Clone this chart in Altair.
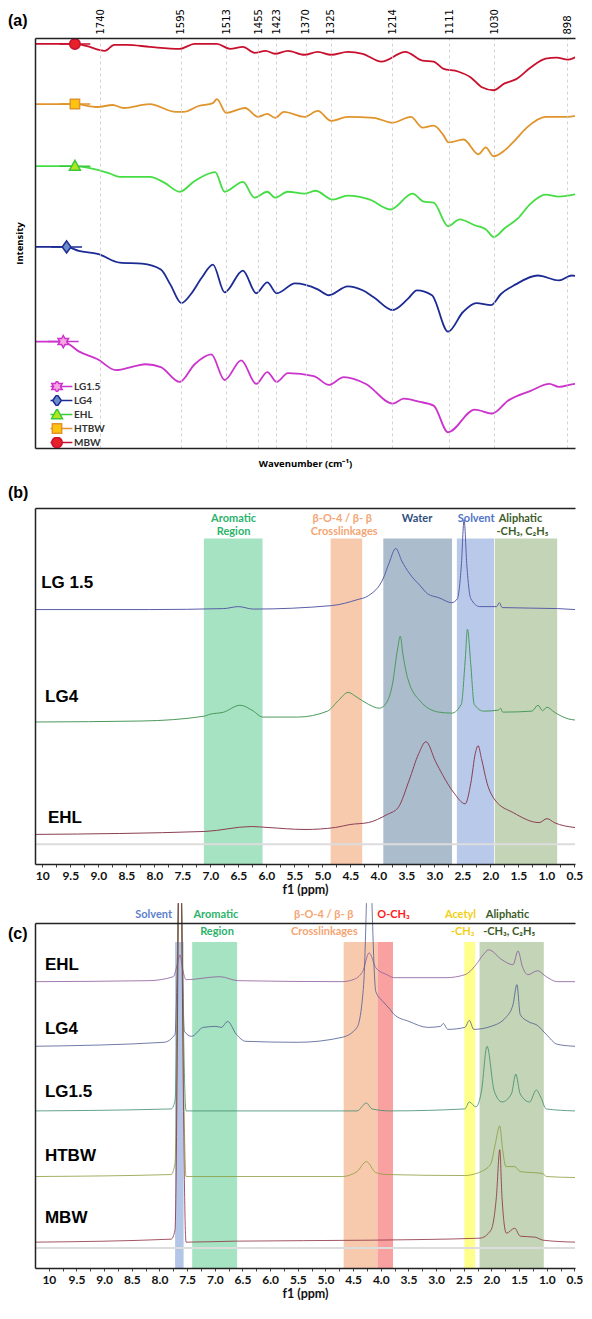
import altair as alt
import pandas as pd

# ---------------- Panel (a): FTIR ----------------
A_TICKS = [1740, 1595, 1513, 1455, 1423, 1370, 1325, 1214, 1111, 1030, 898]
A_SERIES = ["LG1.5", "LG4", "EHL", "HTBW", "MBW"]
A_LINE_COLORS = ["#cc33cc", "#1c2a94", "#44dd44", "#e0942c", "#c8102e"]
A_MARK_FILLS = ["#f7a8e0", "#6a8cc8", "#b5e61d", "#ffc20e", "#e8202a"]
A_MARK_STROKES = ["#cc33cc", "#1c2a94", "#3cc83c", "#e0942c", "#c8102e"]
A_SHAPES = [
    "M-2.8,0L-0.62,0M0.62,0L2.8,0M0,-1.1L0.31,-0.54L0.95,-0.55L0.62,0L0.95,0.55L0.31,0.54L0,1.1L-0.31,0.54L-0.95,0.55L-0.62,0L-0.95,-0.55L-0.31,-0.54Z",
    "M-2.8,0L-0.8,0M0.8,0L2.8,0M0,-1.1L0.8,0L0,1.1L-0.8,0Z",
    "M-2.8,0L-0.58,0M0.58,0L2.8,0M0,-1.05L1,0.75L-1,0.75Z",
    "M-2.8,0L-0.85,0M0.85,0L2.8,0M-0.85,-0.85L0.85,-0.85L0.85,0.85L-0.85,0.85Z",
    "M-2.8,0L-0.95,0M0.95,0L2.8,0M0.95,0L0.878,0.364L0.672,0.672L0.364,0.878L0,0.95L-0.364,0.878L-0.672,0.672L-0.878,0.364L-0.95,0L-0.878,-0.364L-0.672,-0.672L-0.364,-0.878L0,-0.95L0.364,-0.878L0.672,-0.672L0.878,-0.364Z",
]
A_MARK_WN = [1807, 1801, 1786, 1786, 1786]
A_MARK_I = [108, 204, 286, 349, 410]

A_MBW = [(1858, 410), (1786, 410), (1766, 408), (1732, 403), (1715, 409), (1692, 409), (1651, 407),
         (1597, 405), (1570, 410), (1530, 410), (1506, 405), (1483, 407), (1462, 401), (1442, 403),
         (1425, 400), (1402, 403), (1372, 399), (1348, 402), (1324, 399), (1294, 402), (1267, 400),
         (1233, 392), (1190, 402), (1159, 393), (1139, 392), (1122, 385), (1095, 382), (1072, 376),
         (1052, 366), (1031, 363), (1011, 370), (991, 374), (964, 386), (937, 395), (917, 396),
         (897, 394), (880, 397), (871, 398)]
A_HTBW = [(1858, 349), (1786, 349), (1745, 346), (1718, 348), (1698, 345), (1651, 349), (1604, 341),
          (1590, 341), (1563, 347), (1537, 350), (1530, 354), (1513, 340), (1479, 345), (1456, 336),
          (1439, 339), (1425, 335), (1409, 341), (1372, 336), (1348, 342), (1324, 332), (1294, 336),
          (1247, 335), (1213, 330), (1180, 336), (1159, 325), (1139, 327), (1122, 318), (1112, 310),
          (1085, 313), (1058, 298), (1045, 305), (1031, 296), (1011, 302), (991, 313), (971, 325),
          (937, 336), (897, 336), (871, 339)]
A_EHL = [(1858, 286), (1786, 286), (1759, 284), (1725, 279), (1705, 275), (1651, 275), (1624, 269),
         (1597, 260), (1570, 271), (1533, 280), (1516, 260), (1483, 270), (1462, 254), (1439, 260),
         (1425, 254), (1402, 260), (1372, 258), (1352, 261), (1321, 252), (1294, 256), (1254, 252),
         (1217, 242), (1177, 258), (1157, 250), (1139, 249), (1113, 225), (1092, 232), (1065, 226),
         (1045, 222), (1030, 214), (1011, 223), (987, 233), (964, 248), (937, 257), (913, 255),
         (897, 256), (871, 259)]
A_LG4 = [(1858, 204), (1801, 204), (1779, 200), (1745, 197), (1705, 188), (1665, 187), (1631, 181),
         (1614, 166), (1594, 147), (1577, 156), (1557, 173), (1537, 186), (1516, 158), (1483, 180),
         (1459, 157), (1439, 168), (1422, 157), (1389, 167), (1348, 161), (1328, 155), (1294, 164),
         (1267, 160), (1247, 153), (1213, 140), (1186, 151), (1169, 160), (1142, 155), (1113, 118),
         (1086, 138), (1062, 147), (1035, 145), (1018, 156), (991, 166), (951, 175), (913, 170),
         (890, 175), (871, 173)]
A_LG15 = [(1858, 108), (1807, 108), (1779, 98), (1745, 90), (1712, 79), (1678, 83), (1658, 85),
          (1631, 82), (1597, 67), (1570, 85), (1540, 95), (1516, 69), (1486, 89), (1459, 65),
          (1439, 77), (1422, 67), (1402, 76), (1355, 73), (1328, 64), (1301, 72), (1261, 65),
          (1213, 45), (1193, 50), (1166, 47), (1139, 43), (1113, 16), (1065, 39), (1033, 35),
          (1005, 48), (964, 58), (930, 65), (913, 62), (883, 65), (871, 65)]

# ---------------- Panels (b), (c): 1H NMR ----------------
PPM_TICKS = [10, 9.75, 9.5, 9.25, 9.0, 8.75, 8.5, 8.25, 8.0, 7.75, 7.5, 7.25, 7.0, 6.75, 6.5, 6.25,
             6.0, 5.75, 5.5, 5.25, 5.0, 4.75, 4.5, 4.25, 4.0, 3.75, 3.5, 3.25, 3.0, 2.75, 2.5, 2.25,
             2.0, 1.75, 1.5, 1.25, 1.0, 0.75, 0.5]

B_LG15 = [(10.13, 258), (8.09, 258), (6.76, 259), (6.50, 261), (6.23, 258.5), (4.84, 262), (4.38, 268),
          (4.18, 272), (3.91, 290), (3.81, 305), (3.69, 320), (3.58, 307), (3.45, 295), (3.25, 282),
          (3.12, 274), (2.92, 270), (2.69, 265), (2.59, 269), (2.52, 302), (2.47, 349), (2.42, 302),
          (2.35, 269), (2.19, 261), (1.89, 261), (1.84, 265), (1.79, 260), (0.80, 259), (0.49, 258)]
B_LG4 = [(10.13, 144), (8.22, 145), (7.10, 150), (7.03, 151.5), (6.76, 154), (6.47, 161), (6.23, 155),
         (6.07, 149), (5.44, 149), (4.91, 155), (4.71, 166), (4.54, 174), (4.38, 169), (4.18, 162),
         (3.98, 158), (3.85, 164), (3.75, 182), (3.66, 217), (3.61, 231), (3.56, 212), (3.48, 189),
         (3.25, 165), (2.92, 154), (2.69, 153), (2.52, 162), (2.45, 207), (2.41, 238), (2.35, 202),
         (2.29, 162), (2.12, 155), (1.86, 156), (1.82, 158), (1.78, 154), (1.26, 155), (1.15, 161),
         (1.07, 155.5), (0.99, 159), (0.86, 154), (0.60, 147), (0.49, 146)]
B_EHL = [(10.13, 30), (7.10, 33), (6.27, 38), (5.97, 37), (5.31, 35), (4.77, 37), (4.51, 40), (4.18, 42),
         (3.85, 50), (3.65, 57), (3.45, 85), (3.28, 112), (3.15, 124), (2.98, 104), (2.85, 90),
         (2.65, 72), (2.45, 61), (2.35, 82), (2.27, 112), (2.22, 120), (2.16, 107), (2.06, 82),
         (1.92, 65), (1.59, 52), (1.13, 42), (0.99, 46), (0.86, 42), (0.49, 37)]
B_LINE_COLORS = ["#5a5ea8", "#4c9a5c", "#8b3f52"]
B_LABELS = ["LG 1.5", "LG4", "EHL"]
B_LABEL_PPM = [10.02, 9.95, 9.90]
B_LABEL_I = [280, 164, 42]
B_BASE_LEVEL = [20]

B_BAND_HI = [7.115, 4.853, 3.912, 2.599, 1.922]
B_BAND_LO = [6.068, 4.289, 2.685, 1.936, 0.808]
B_BAND_TOP = [330, 330, 330, 330, 330]
B_BAND_COLORS = ["#a6e3c2", "#f7caae", "#abbccd", "#b8c9ea", "#c3d4b7"]

B_HDR_TEXT = ["Aromatic", "Region", "β-O-4 / β- β", "Crosslinkages", "Water", "Solvent", "Aliphatic", "-CH₃, C₂H₅"]
B_HDR_PPM = [6.585, 6.585, 4.644, 4.61, 3.31, 2.254, 1.463, 1.428]
B_HDR_I = [350, 337, 350, 337, 350, 350, 350, 337]
B_HDR_COLORS = ["#2bb36b", "#2bb36b", "#f4a574", "#f4a574", "#2f4f7f", "#4f74c8", "#3d5c2a", "#3d5c2a"]

C_CUT = 367  # peaks running off the top of panel (c) are cut at this level
C_EHL = [(10.25, 288), (8.19, 289), (7.75, 293), (7.68, 305), (7.63, 315), (7.58, 300), (7.52, 290),
         (6.91, 293), (6.58, 289), (4.70, 288), (4.50, 290), (4.33, 298), (4.21, 317), (4.09, 302),
         (3.89, 295), (3.76, 292), (2.82, 292), (2.48, 295), (2.28, 305), (2.15, 315), (2.05, 320),
         (1.81, 310), (1.61, 305), (1.52, 319), (1.44, 303), (1.34, 295), (1.17, 299), (1.01, 293),
         (0.81, 288), (0.49, 288)]
C_LG4 = [(10.25, 223), (7.92, 227), (7.72, 235), (7.66, 367), (7.60, 367), (7.55, 238), (7.42, 233),
         (7.21, 242), (6.98, 243), (6.88, 242), (6.77, 248), (6.61, 235), (6.44, 228), (5.50, 227),
         (4.70, 232), (4.43, 242), (4.31, 285), (4.26, 367), (4.16, 367), (4.09, 278), (3.96, 268),
         (3.83, 260), (3.76, 255), (3.49, 248), (3.15, 242), (2.92, 243), (2.87, 246), (2.79, 240),
         (2.48, 242), (2.40, 249), (2.32, 240), (2.01, 243), (1.74, 252), (1.61, 265), (1.54, 285),
         (1.48, 255), (1.34, 248), (1.17, 244), (1.01, 235), (0.81, 225), (0.49, 223)]
C_LG15 = [(10.25, 158), (7.79, 160), (7.72, 168), (7.66, 367), (7.60, 367), (7.52, 158), (4.43, 158),
          (4.26, 166), (4.16, 160), (3.83, 158), (2.48, 160), (2.40, 167), (2.28, 162), (2.18, 178),
          (2.08, 223), (1.95, 178), (1.81, 167), (1.64, 175), (1.56, 195), (1.48, 175), (1.31, 167),
          (1.19, 179), (1.11, 172), (1.01, 160), (0.49, 158)]
C_HTBW = [(10.25, 92), (7.79, 94), (7.72, 105), (7.66, 367), (7.60, 367), (7.52, 92), (4.70, 92),
          (4.43, 97), (4.26, 107), (4.09, 96), (3.89, 94), (2.48, 93), (2.28, 95), (2.15, 98),
          (2.01, 105), (1.93, 125), (1.85, 143), (1.80, 120), (1.74, 102), (1.58, 102), (1.48, 97),
          (1.07, 95), (1.01, 92), (0.49, 91)]
C_MBW = [(10.25, 26), (7.79, 29), (7.72, 38), (7.66, 367), (7.60, 367), (7.52, 26), (6.64, 27),
         (4.16, 28), (2.21, 30), (2.01, 38), (1.91, 72), (1.85, 119), (1.81, 72), (1.73, 35),
         (1.58, 40), (1.48, 32), (1.21, 31), (1.07, 28), (0.49, 26)]
C_LINE_COLORS = ["#8c5a9c", "#4d5b8e", "#3f8c6c", "#8c9c3c", "#8c2c3c"]
C_LABELS = ["EHL", "LG4", "LG1.5", "HTBW", "MBW"]
C_LABEL_PPM = [10.07, 10.07, 10.07, 10.07, 10.07]
C_LABEL_I = [300, 235, 172, 108, 45]
C_BASE_LEVEL = [20]

C_BAND_HI = [7.718, 7.409, 4.671, 4.060, 2.490, 2.215]
C_BAND_LO = [7.564, 6.597, 4.060, 3.779, 2.295, 1.054]
C_BAND_TOP = [328, 328, 328, 328, 328, 328]
C_BAND_COLORS = ["#b4c6e7", "#a6e3c2", "#f7caae", "#f9a1a1", "#ffff8c", "#c3d4b7"]

C_HDR_TEXT = ["Solvent", "Aromatic", "Region", "β-O-4 / β- β", "Crosslinkages", "O-CH₃",
              "Acetyl", "-CH₃", "Aliphatic", "-CH₃, C₂H₅"]
C_HDR_PPM = [8.107, 6.98, 6.96, 5.03, 5.02, 3.77, 2.56, 2.52, 1.71, 1.68]
C_HDR_I = [355, 355, 338, 355, 338, 355, 355, 338, 355, 338]
C_HDR_COLORS = ["#5b7fcc", "#2bb36b", "#2bb36b", "#f4a574", "#f4a574", "#ff1a1a",
                "#f2cf10", "#f2cf10", "#3d5c2a", "#3d5c2a"]

PANEL_W = 540
FRAME = dict(domain=True, domainColor="#222", domainWidth=1.5, zindex=1)


def pairs_df(pairs, col, cut=None):
    # split the trace where a peak is cut off at the top, so the cut ends stay open
    seg, segs, prev = 0, [], None
    for _, yv in pairs:
        if cut is not None and prev == cut and yv == cut:
            seg += 1
        segs.append(seg)
        prev = yv
    return pd.DataFrame({"x": [p[0] for p in pairs], "y": [p[1] for p in pairs],
                         "col": col, "seg": segs})


def frame_axis(orient):
    return alt.Axis(orient=orient, labels=False, ticks=False, grid=False, title=None, **FRAME)


# ---------- panel (a) ----------
xa = alt.Scale(domain=[1858, 884], nice=False, zero=False)
ya = alt.Scale(domain=[0, 416], nice=False, zero=False)

a_line_df = pd.concat([pairs_df(s, c) for s, c in
                       zip([A_LG15, A_LG4, A_EHL, A_HTBW, A_MBW], A_LINE_COLORS)])
a_mark_df = pd.DataFrame({"x": A_MARK_WN, "y": A_MARK_I, "s": A_SERIES})

a_lines = alt.Chart(a_line_df).mark_line(strokeWidth=1.8, interpolate="monotone", clip=True).encode(
    x=alt.X("x:Q", scale=xa, axis=alt.Axis(
        orient="top", values=A_TICKS, format="d", labelAngle=-90, labelFont="DejaVu Sans",
        labelFontSize=10, labelColor="black", labelPadding=4, ticks=False,
        grid=True, gridColor="#c8c8c8", gridDash=[3, 3], gridWidth=0.8, title=None,
        labelOverlap=False, **FRAME)),
    y=alt.Y("y:Q", scale=ya, axis=alt.Axis(
        orient="left", title="Intensity", labels=False, ticks=False, grid=False,
        titleFont="Open Sans", titleFontSize=9.5, titleFontWeight="bold", titleColor="black",
        titlePadding=11, **FRAME)),
    color=alt.Color("col:N", scale=None),
)

A_LEGEND = alt.Legend(title=None, orient="none", legendX=15.5, legendY=343, direction="vertical",
                      labelFont="Lato", labelFontSize=10, labelFontWeight="bold", labelColor="#333",
                      symbolSize=121, symbolStrokeWidth=1.5, rowPadding=3, clipHeight=11,
                      labelOffset=10.5, padding=0)

a_marks = alt.Chart(a_mark_df).mark_point(filled=True, size=121, opacity=1, strokeWidth=1.5).encode(
    x=alt.X("x:Q", scale=xa, axis=alt.Axis(
        orient="bottom", title="Wavenumber (cm⁻¹)", labels=False, ticks=False,
        grid=False, titleFont="Open Sans", titleFontSize=9.5, titleFontWeight="bold",
        titleColor="black", titlePadding=10, **FRAME)),
    y=alt.Y("y:Q", scale=ya, axis=None),
    fill=alt.Fill("s:N", scale=alt.Scale(domain=A_SERIES, range=A_MARK_FILLS), legend=A_LEGEND),
    stroke=alt.Stroke("s:N", scale=alt.Scale(domain=A_SERIES, range=A_MARK_STROKES), legend=A_LEGEND),
    shape=alt.Shape("s:N", scale=alt.Scale(domain=A_SERIES, range=A_SHAPES), legend=A_LEGEND),
)


def panel_tag(tag, yoff):
    return alt.Chart(pd.DataFrame({"t": [tag]})).mark_text(
        align="left", baseline="middle", fontSize=16, fontWeight="bold",
        font="Liberation Sans", color="black").encode(
        text="t:N", x=alt.value(-27), y=alt.value(yoff))


panel_a = alt.layer(a_lines, a_marks, panel_tag("(a)", -17)).resolve_axis(
    x="independent", y="independent").properties(width=PANEL_W, height=410)


# ---------- NMR panel builder ----------
def ppm_axis():
    return alt.Axis(orient="bottom", values=PPM_TICKS,
                    labelExpr="(datum.value * 2) % 1 != 0 ? '' : (datum.value == 10 ? '10' : format(datum.value, '.1f'))",
                    title="f1 (ppm)", labelFont="Lato", labelFontSize=12,
                    labelFontWeight="bold", labelColor="#111", titleFont="Lato",
                    titleFontSize=12.5, titleFontWeight="bold", titleColor="#111", tickSize=3,
                    tickColor="#444", grid=False, labelPadding=3, titlePadding=2,
                    labelOverlap=False, labelFlush=False, **FRAME)


def nmr_panel(xs, ys, bands, base, curves, colors, hdr, labels, tag, tag_y, height, lw, cut=None):
    band_df = pd.DataFrame({"hi": bands[0], "lo": bands[1], "top": bands[2], "col": bands[3]})
    layers = [
        alt.Chart(band_df).mark_rect().encode(
            x=alt.X("hi:Q", scale=xs, axis=ppm_axis()), x2="lo:Q",
            y=alt.Y("top:Q", scale=ys, axis=frame_axis("left")), y2=alt.datum(0),
            color=alt.Color("col:N", scale=None)),
        alt.Chart(pd.DataFrame({"y": base})).mark_rule(color="#dcdcdc", strokeWidth=2).encode(
            y=alt.Y("y:Q", scale=ys, axis=None)),
    ]
    for pairs, c in zip(curves, colors):
        layers.append(alt.Chart(pairs_df(pairs, c, cut)).mark_line(
            strokeWidth=lw, interpolate="monotone", color=c).encode(
            x=alt.X("x:Q", scale=xs, axis=None), y=alt.Y("y:Q", scale=ys, axis=None),
            detail="seg:N"))
    hdr_df = pd.DataFrame({"t": hdr[0], "x": hdr[1], "y": hdr[2], "col": hdr[3]})
    layers.append(alt.Chart(hdr_df).mark_text(
        fontSize=11, fontWeight="bold", font="Lato", baseline="middle", align="center").encode(
        x=alt.X("x:Q", scale=xs, axis=frame_axis("top")), y=alt.Y("y:Q", scale=ys, axis=None),
        text="t:N", color=alt.Color("col:N", scale=None)))
    lab_df = pd.DataFrame({"t": labels[0], "x": labels[1], "y": labels[2]})
    layers.append(alt.Chart(lab_df).mark_text(
        fontSize=17, fontWeight="bold", font="Liberation Sans", align="left",
        baseline="alphabetic", color="black").encode(
        x=alt.X("x:Q", scale=xs, axis=None), y=alt.Y("y:Q", scale=ys, axis=None), text="t:N"))
    layers.append(panel_tag(tag, tag_y))
    return alt.layer(*layers).resolve_axis(x="independent", y="independent").properties(
        width=PANEL_W, height=height)


xb = alt.Scale(domain=[10.13, 0.49], nice=False, zero=False)
yb = alt.Scale(domain=[0, 361], nice=False, zero=False)
panel_b = nmr_panel(xb, yb, (B_BAND_HI, B_BAND_LO, B_BAND_TOP, B_BAND_COLORS), B_BASE_LEVEL,
                    [B_LG15, B_LG4, B_EHL], B_LINE_COLORS,
                    (B_HDR_TEXT, B_HDR_PPM, B_HDR_I, B_HDR_COLORS),
                    (B_LABELS, B_LABEL_PPM, B_LABEL_I), "(b)", -15, 356, 1.0)

xc = alt.Scale(domain=[10.25, 0.49], nice=False, zero=False)
yc = alt.Scale(domain=[0, 347], nice=False, zero=False)
panel_c = nmr_panel(xc, yc, (C_BAND_HI, C_BAND_LO, C_BAND_TOP, C_BAND_COLORS), C_BASE_LEVEL,
                    [C_EHL, C_LG4, C_LG15, C_HTBW, C_MBW], C_LINE_COLORS,
                    (C_HDR_TEXT, C_HDR_PPM, C_HDR_I, C_HDR_COLORS),
                    (C_LABELS, C_LABEL_PPM, C_LABEL_I), "(c)", 11, 345, 0.8, cut=C_CUT)

chart = alt.vconcat(panel_a, alt.vconcat(panel_b, panel_c, spacing=5), spacing=17).properties(
    padding=0, background="white"
).configure_view(strokeWidth=0)

chart.save("out.html", embed_options={"renderer": "svg", "actions": False})
